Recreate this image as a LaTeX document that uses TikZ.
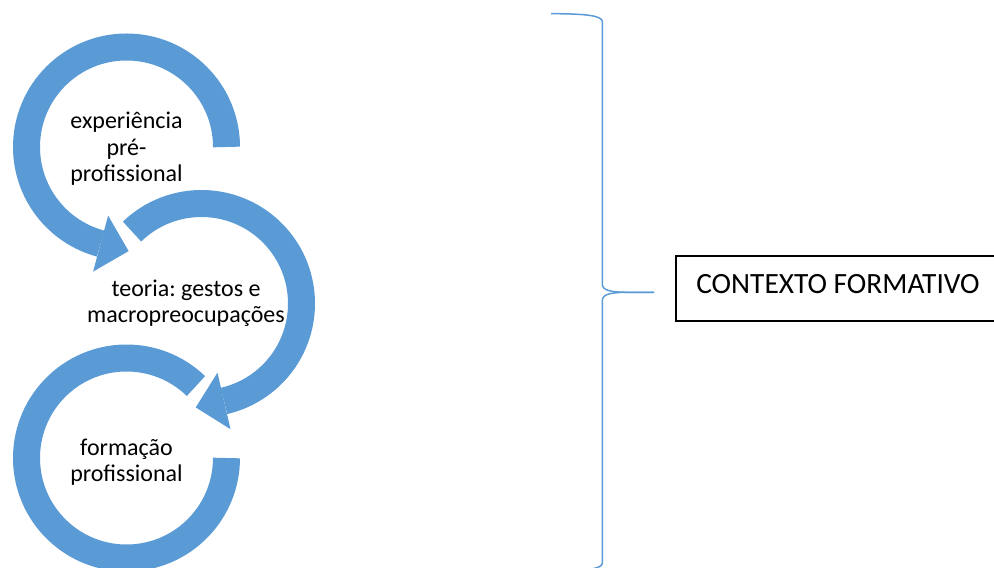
\documentclass[tikz,border=0pt]{standalone}
\usepackage{fontspec}
\setmainfont{Carlito}
\frenchspacing
\usetikzlibrary{calc,math}
\definecolor{ringblue}{RGB}{91,155,213}
\tikzset{
    ring/.style={draw=ringblue, line width=13.5pt},
    ringtip/.style={fill=ringblue},
    ringtext/.style={align=center, font=\fontsize{12}{13.2}\selectfont},
    brace/.style={draw=ringblue, line width=0.75pt},
    ctxbox/.style={draw, line width=1pt, minimum width=162pt, minimum height=32.5pt,
        text height=9.4pt, text depth=4pt, font=\fontsize{14.7}{17}\selectfont},
}

\begin{document}
\begin{tikzpicture}[x=0.5pt,y=0.5pt]
    \tikzmath{ \rad=100; \hw=29; }
    \useasboundingbox (0,0) rectangle (994,567);
    \coordinate (O1) at (126.5,420);
    \coordinate (O2) at (201.5,263.5);
    \coordinate (O3) at (126.5,109);
    % three circular arrows
    \draw[ring] ($(O1)+(0:\rad)$) arc(0:255:\rad);
    \fill[ringtip] ($(O1)+(255:{\rad-\hw})$) -- ($(O1)+(255:{\rad+\hw})$) -- ($(O1)+(255:\rad)+(345:\hw)$) -- cycle;
    \draw[ring] ($(O2)+(134:\rad)$) arc(134:-77:\rad);
    \fill[ringtip] ($(O2)+(-77:{\rad-\hw})$) -- ($(O2)+(-77:{\rad+\hw})$) -- ($(O2)+(-77:\rad)+(-167:\hw)$) -- cycle;
    \draw[ring] ($(O3)+(46:\rad)$) arc(46:360:\rad);
    \node[ringtext] (exp) at ($(O1)+(0,-2)$) {experiência\\pré-\\profissional};
    \node[ringtext] (teo) at ($(O2)+(-15.5,0)$) {teoria: gestos e\\macropreocupações};
    \node[ringtext] (form) at ($(O3)+(0,-4)$) {formação\\profissional};
    % brace and box
    \coordinate (tip) at (654,274.7);
    \draw[brace] (551,553.3) .. controls (588,553.3) and (602.3,551) .. (602.3,545.3)
        -- (602.3,283) .. controls (602.3,276) and (612,274.7) .. (630,274.7) -- (tip);
    \draw[brace] (tip) -- (630,274.7) .. controls (612,274.7) and (602.3,273.4) .. (602.3,266.4)
        -- (602.3,4) .. controls (602.3,-1.7) and (588,-4) .. (551,-4);
    \node[ctxbox] (ctx) at (838,278.5) {CONTEXTO FORMATIVO};
\end{tikzpicture}
\end{document}
